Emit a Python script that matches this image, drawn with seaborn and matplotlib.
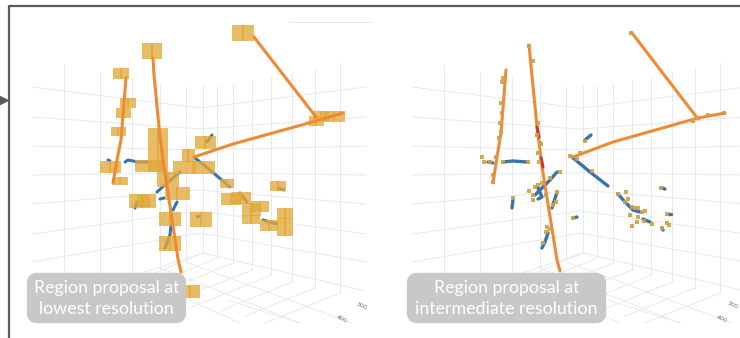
import pandas as pd
import seaborn as sns
import matplotlib.pyplot as plt
from matplotlib.patches import FancyBboxPatch

# values in picture pixels
PANEL_OFFSET = 380

# grid of the 3d scene (left panel, right one is shifted)
wall_x = [32, 200, 366]
wall_rows = [[87, 108, 87], [117, 129, 117], [146, 150, 146], [175, 173, 175],
             [204, 190, 204], [234, 211, 234], [262, 233, 262]]
post_x = [64, 100, 132, 160, 186, 203, 217, 233, 252, 271, 292, 315, 340]
post_top = [65, 72, 78, 83, 87, 86, 86, 83, 80, 77, 72, 68, 63]
post_bottom = [272, 272, 272, 268, 262, 253, 258, 263, 270, 275, 282, 288, 293]
floor_x0 = [203, 186, 160, 132, 203, 217, 233, 252, 271, 292, 315, 340, 203, 228]
floor_y0 = [253, 262, 268, 274, 253, 258, 263, 270, 275, 282, 288, 293, 253, 300]
floor_x1 = [365, 352, 300, 240, 100, 130, 145, 170, 190, 220, 245, 265, 60, 300]
floor_y1 = [291, 323, 323, 323, 296, 294, 298, 302, 308, 311, 316, 323, 300, 323]

# left panel: tracks and proposal boxes
left_orange_x = [[254, 316], [194, 233, 316, 343], [153, 154, 159, 163, 178, 181], [126, 121, 117, 113]]
left_orange_y = [[37, 117], [157, 144, 121, 113], [58, 75, 127, 160, 259, 272], [78, 140, 160, 183]]
left_blue_x = [[108, 110], [125, 128, 138, 150], [212, 207], [195, 210, 230], [180, 167, 157],
               [160, 164], [177, 173], [171, 170, 165], [137, 135], [197, 200], [240, 247], [263, 277], [278, 284]]
left_blue_y = [[160, 161], [162, 160, 162, 162], [135, 142], [158, 170, 187], [172, 183, 192],
               [199, 198], [202, 210], [225, 235, 248], [202, 208], [216, 216], [193, 202], [220, 224], [188, 190]]
box_x = [243, 152, 121, 128, 123, 118, 158, 110, 120, 150, 194, 188, 205, 168, 177, 142, 143, 170, 201, 170,
         227, 278, 231, 241, 251, 251, 260, 269, 285, 285, 190, 316, 334, 321]
box_y = [33, 51, 73, 103, 113, 131, 150, 167, 181, 166, 167, 155, 142, 179, 193, 201, 201, 219, 219, 243,
         183, 186, 199, 198, 209, 219, 206, 225, 213, 227, 291, 121, 116, 116]
box_w = [22, 20, 16, 16, 15, 15, 20, 21, 15, 30, 43, 13, 21, 22, 25, 27, 13, 22, 23, 22,
         14, 16, 20, 19, 19, 18, 17, 18, 16, 16, 20, 15, 22, 16]
box_h = [16, 16, 11, 10, 10, 9, 44, 12, 8, 12, 13, 13, 13, 15, 13, 14, 12, 14, 15, 15,
         9, 10, 12, 12, 13, 9, 11, 11, 11, 18, 13, 10, 11, 10]

# right panel: tracks and proposal points
right_orange_x = [[632, 698], [573, 613, 698, 725], [529, 537, 543, 557, 560], [506, 501, 495, 493]]
right_orange_y = [[33, 119], [157, 142, 118, 113], [45, 127, 173, 260, 271], [70, 133, 170, 183]]
right_red_x = [[537, 539], [541, 543]]
right_red_y = [[127, 137], [158, 167]]
right_blue_x = [[488, 493], [503, 513, 527], [585, 591], [572, 590, 608], [557, 550, 542, 535],
                [538, 542, 538], [557, 552], [513, 512], [548, 545, 542], [573, 577], [618, 625, 633, 640],
                [643, 650], [662, 665], [668, 671], [662, 663]]
right_blue_y = [[162, 163], [162, 161, 162], [140, 135], [157, 172, 186], [172, 180, 188, 195],
                [188, 197, 199], [192, 208], [200, 208], [233, 242, 248], [218, 217], [194, 202, 210, 212],
                [219, 222], [188, 189], [214, 214], [228, 230]]
point_x = [503, 502, 501, 502, 500, 501, 499, 496, 482, 484, 490, 503, 528, 529, 533, 538, 537, 541, 539, 539,
           570, 580, 577, 585, 631, 698, 708, 724, 693, 493, 493, 538, 540, 560, 550, 542, 538, 535, 529, 533,
           533, 546, 557, 556, 553, 513, 573, 547, 546, 550, 543, 592, 618, 626, 628, 625, 632, 635, 638, 630,
           638, 645, 642, 637, 632, 644, 652, 661, 667, 667, 669, 662]
point_y = [78, 82, 103, 113, 123, 132, 138, 157, 157, 162, 162, 162, 162, 46, 61, 123, 135, 144, 153, 162,
           156, 153, 159, 141, 33, 118, 115, 113, 121, 175, 182, 153, 143, 172, 178, 183, 185, 187, 191, 195,
           200, 195, 192, 202, 205, 198, 218, 227, 232, 229, 243, 171, 194, 192, 199, 202, 207, 208, 208, 215,
           217, 211, 212, 222, 226, 221, 224, 188, 214, 223, 225, 228]

caption_left = "Region proposal at\nlowest resolution"
caption_right = "Region proposal at\nintermediate resolution"

ORANGE = "#ee8a33"
BLUE = "#3573b2"
RED = "#c9362b"
GOLD = "#cda145"
BOX = "#e2a83a"
GRID = "#e8e9ec"
FRAME = "#5a5a5a"


def draw_lines(ax, xs, ys, color, lw, zorder, alpha=1.0):
    rows = []
    for i, (xx, yy) in enumerate(zip(xs, ys)):
        rows += [{"x": a, "y": b, "seg": i} for a, b in zip(xx, yy)]
    sns.lineplot(data=pd.DataFrame(rows), x="x", y="y", units="seg", estimator=None, sort=False,
                 color=color, linewidth=lw, alpha=alpha, zorder=zorder, legend=False, ax=ax)


def draw_grid(ax, dx):
    xs = [[x + dx for x in wall_x] for _ in wall_rows]
    xs += [[x + dx, x + dx] for x in post_x]
    ys = list(wall_rows) + [[t, b] for t, b in zip(post_top, post_bottom)]
    for a0, b0, a1, b1 in zip(floor_x0, floor_y0, floor_x1, floor_y1):
        xs.append([a0 + dx, a1 + dx])
        ys.append([b0, b1])
    draw_lines(ax, xs, ys, GRID, 0.7, 1)


def draw_caption(ax, x0, x1, text):
    ax.add_patch(FancyBboxPatch((x0 + 6, 277), x1 - x0 - 12, 42, boxstyle="round,pad=0,rounding_size=6",
                                mutation_aspect=1, linewidth=6, edgecolor="#c8c8c8", facecolor="#c8c8c8",
                                joinstyle="round", zorder=7))
    ax.text((x0 + x1) / 2, 298.5, text, color="white", ha="center", va="center", fontsize=12.8,
            family="Lato", linespacing=1.42, zorder=8)


sns.set_theme(style="white")
fig = plt.figure(figsize=(7.4, 3.38), dpi=100)
ax = fig.add_axes([0, 0, 1, 1])

draw_grid(ax, 0)
draw_grid(ax, PANEL_OFFSET)
draw_lines(ax, [[288, 373]], [[22, 22]], GRID, 0.7, 1)

# left panel
draw_lines(ax, left_blue_x, left_blue_y, BLUE, 2.2, 2)
for x, y, w, h in zip(box_x, box_y, box_w, box_h):
    ax.bar(x - w * 0.23, h, width=w * 0.54, bottom=y - h / 2, color=BOX, alpha=0.78, linewidth=0, zorder=3)
    ax.bar(x + w * 0.23, h, width=w * 0.54, bottom=y - h / 2, color=BOX, alpha=0.78, linewidth=0, zorder=3)
draw_lines(ax, left_orange_x, left_orange_y, ORANGE, 2.2, 4)

# right panel
draw_lines(ax, right_blue_x, right_blue_y, BLUE, 2.4, 2)
draw_lines(ax, right_orange_x, right_orange_y, ORANGE, 2.2, 4)
draw_lines(ax, right_red_x, right_red_y, RED, 2.2, 5)
sns.scatterplot(x=point_x, y=point_y, color=GOLD, marker="s", s=11, linewidth=0, alpha=0.9, zorder=6, ax=ax)

# tick labels of the scene
for x, y, t in [(361, 306, "300"), (342, 319, "400"), (722, 319, "400"), (732, 305, "300")]:
    ax.text(x, y, t, fontsize=4.5, color="#777777", rotation=-25, ha="center", va="center")

draw_caption(ax, 25, 188, caption_left)
draw_caption(ax, 405, 608, caption_right)

# slide frame and the arrow coming in from the left
draw_lines(ax, [[9, 9, 740], [0, 5]], [[338, 6, 6], [100, 100]], FRAME, 1.6, 9)
sns.scatterplot(x=[4], y=[100], color=FRAME, marker=">", s=55, linewidth=0, zorder=9, ax=ax)

ax.set_xlim(0, 740)
ax.set_ylim(338, 0)
ax.axis("off")
fig.savefig("out.png", dpi=100)
